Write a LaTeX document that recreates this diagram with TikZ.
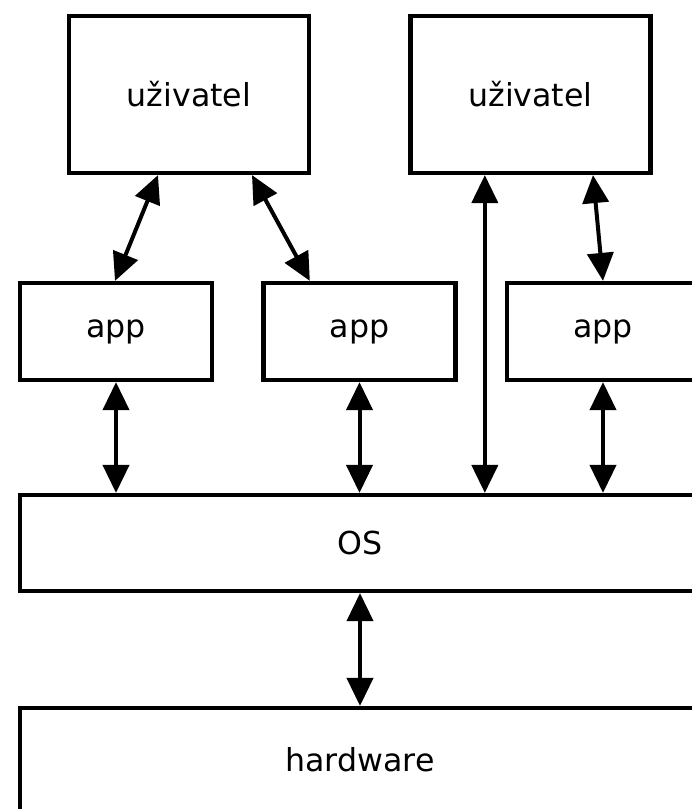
\documentclass[tikz,border=0pt]{standalone}
\usepackage{fontspec}
\setmainfont{DejaVu Sans}
\usetikzlibrary{arrows.meta}
\tikzstyle{box} =
        [
                rectangle,
                draw,
                line width = 0.125cm,
                text centered,
                inner sep = 0pt,
                font = \fontsize{27}{31}\selectfont
        ]
\tikzstyle{user} =
        [
                box,
                minimum width = 7.2cm,
                minimum height = 4.71cm
        ]
\tikzstyle{app} =
        [
                box,
                minimum width = 5.76cm,
                minimum height = 2.91cm
        ]
\tikzstyle{layer} =
        [
                box,
                minimum width = 20.4cm,
                minimum height = 2.88cm
        ]
\tikzstyle{line} =
        [
                draw,
                line width = 0.12cm,
                {Triangle[length = 0.84cm, width = 0.78cm]}-{Triangle[length = 0.84cm, width = 0.78cm]}
        ]

\begin{document}
\begin{tikzpicture}[node distance = 2cm, auto]
        \useasboundingbox (0,0) rectangle (20.76,-24.27);
        \clip (0,0) rectangle (20.76,-24.27);

        \node [layer] (os) at (10.8,-16.29) {OS};
        \node [layer, below of = os, node distance = 6.51cm, minimum height = 3.12cm] (hw) {hardware};
        \node [app, above of = os, node distance = 6.345cm, xshift = -0.015cm] (app2) {app};
        \node [app, left of = app2, node distance = 7.305cm] (app1) {app};
        \node [app, right of = app2, node distance = 7.305cm] (app3) {app};
        \node [user] (user1) at (5.67,-2.835) {uživatel};
        \node [user, right of = user1, node distance = 10.245cm] (user2) {uživatel};

        \path [line] ([xshift = -0.93cm]user1.south) -- ([xshift = -0.03cm]app1.north);
        \path [line] ([xshift = 1.89cm]user1.south) -- ([xshift = -1.49cm]app2.north);
        \path [line] ([xshift = 1.875cm]user2.south) -- (app3.north);
        \path [line] ([xshift = -1.37cm]user2.south) -- ([xshift = -1.37cm]user2.south |- os.north);

        \path [line] (app1.south) -- (app1.south |- os.north);
        \path [line] (app2.south) -- (app2.south |- os.north);
        \path [line] (app3.south) -- (app3.south |- os.north);
        \path [line] (os.south) -- (hw.north);
\end{tikzpicture}
\end{document}
